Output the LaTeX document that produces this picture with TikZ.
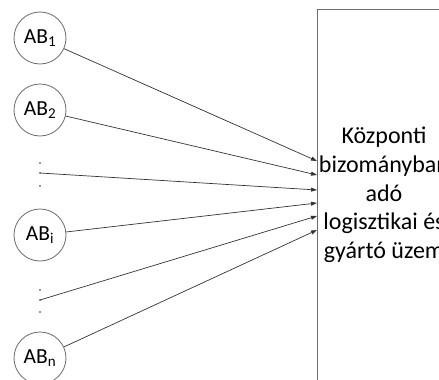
\documentclass[tikz,border=0pt]{standalone}
\usepackage{fontspec}
\setmainfont{Carlito}
\usetikzlibrary{arrows.meta}
\definecolor{circgray}{HTML}{6A6A6A}
\definecolor{linegray}{HTML}{333333}
\definecolor{boxgray}{HTML}{6E6E6E}
\begin{document}
\begin{tikzpicture}[x=1pt,y=-1pt,
  supplier/.style={circle,draw=circgray,line width=0.8pt,minimum size=52pt,
    inner sep=0pt,font=\fontsize{21.5}{24}\selectfont},
  dotmark/.style={circle,fill=linegray,inner sep=0pt,minimum size=1.6pt},
  feed/.style={draw=linegray,line width=0.7pt,-{Triangle[length=6pt,width=4pt]}},
  plant/.style={rectangle,draw=boxgray,line width=1pt,anchor=north west,
    minimum width=200pt,minimum height=420pt,inner sep=0pt},
  plantlabel/.style={align=center,font=\fontsize{24}{28.7}\selectfont},
]
\useasboundingbox (0,0) rectangle (439,380);
\clip (0,0) rectangle (439,380);

% central plant (only its left part lies inside the frame)
\node[plant] (plant) at (317,9) {};
\node[plantlabel] (plantname) at (384,195)
  {Központi\\bizományban\\adó\\logisztikai és\\gyártó üzem};

% suppliers
\node[supplier] (ab1) at (40,38)  {AB\textsubscript{1}};
\node[supplier] (ab2) at (40,110) {AB\textsubscript{2}};
\node[supplier] (abi) at (40,235) {AB\textsubscript{i}};
\node[supplier] (abn) at (40,358) {AB\textsubscript{n}};

% vertical ellipses standing for the omitted suppliers
\node[dotmark] (d1a) at (40,163) {};
\node[dotmark] (d1)  at (40,173) {};
\node[dotmark] (d1c) at (40,186) {};
\node[dotmark] (d2a) at (40,290) {};
\node[dotmark] (d2)  at (40,300) {};
\node[dotmark] (d2c) at (40,312) {};

% arrow end points on the plant's left side
\coordinate (t1) at (plant.west |- 0,161);
\coordinate (t2) at (plant.west |- 0,175);
\coordinate (t3) at (plant.west |- 0,190);
\coordinate (t4) at (plant.west |- 0,203);
\coordinate (t5) at (plant.west |- 0,216);
\coordinate (t6) at (plant.west |- 0,230);

\draw[feed] (ab1) -- (t1);
\draw[feed] (ab2) -- (t2);
\draw[feed] (d1.center) -- (t3);
\draw[feed] (abi) -- (t4);
\draw[feed] (d2.center) -- (t5);
\draw[feed] (abn) -- (t6);
\end{tikzpicture}
\end{document}
